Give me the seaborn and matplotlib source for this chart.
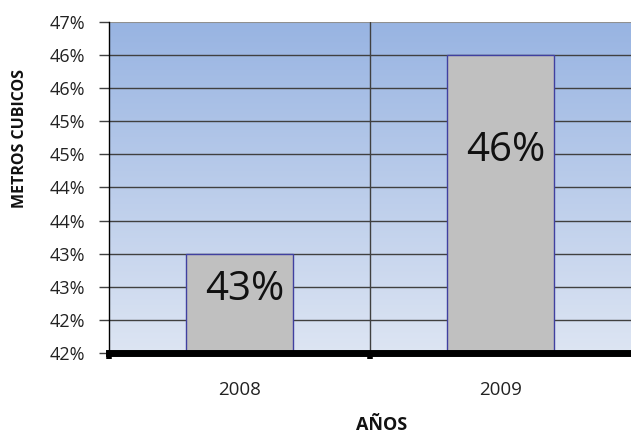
import numpy as np
import pandas as pd
import matplotlib
matplotlib.use("Agg")
import matplotlib.pyplot as plt
from matplotlib.colors import LinearSegmentedColormap
import seaborn as sns

years = ["2008", "2009"]
values = [0.435, 0.465]
bar_labels = ["43%", "46%"]
ytick_values = [0.42, 0.425, 0.43, 0.435, 0.44, 0.445, 0.45, 0.455, 0.46, 0.465, 0.47]
ytick_labels = ["42%", "42%", "43%", "43%", "44%", "44%", "45%", "45%", "46%", "46%", "47%"]

sns.set_theme(style="white")
plt.rcParams['font.family'] = ['Open Sans', 'DejaVu Sans']

W, H = 631, 434
fig = plt.figure(figsize=(W/100, H/100), dpi=100)
ax = fig.add_axes([109/W, (H-353)/H, 1 - 109/W, (353-22)/H])

# gradient background
cmap = LinearSegmentedColormap.from_list("bg", ["#DDE5F3", "#98B4E2"])
grad = np.linspace(0, 1, 256).reshape(-1, 1)
ax.imshow(grad, aspect="auto", cmap=cmap, origin="lower",
          extent=[0, 1, 0, 1], transform=ax.transAxes, zorder=0)

df = pd.DataFrame({"year": years, "value": values})
sns.barplot(data=df, x="year", y="value", color="#C0C0C0", width=0.41,
            edgecolor="#4040A0", linewidth=1, saturation=1, ax=ax, zorder=3)
ax.set_xlabel("")
ax.set_ylabel("")

ax.set_xlim(-0.5, 1.5)
ax.set_ylim(0.42, 0.47)
ax.set_yticks(ytick_values)
ax.set_yticklabels(ytick_labels, fontsize=13, color="#222222")

# gridlines
for v in ytick_values[1:-1]:
    ax.axhline(v, color="#404040", lw=1, zorder=1)
ax.axhline(ytick_values[-1], color="#909090", lw=1.5, zorder=1)
ax.axvline(0.5, color="#404040", lw=1, zorder=1)

# bar labels
base = 0.42
for i, (v, lab) in enumerate(zip(values, bar_labels)):
    ypos = base + (v - base) * (0.64 if i == 0 else 0.68)
    ax.text(i + 0.02, ypos, lab, ha="center", va="center", fontsize=29, color="#111111", zorder=4)

# spines
for s in ["top", "right"]:
    ax.spines[s].set_visible(False)
ax.spines["left"].set_color("black")
ax.spines["left"].set_linewidth(1)
ax.spines["bottom"].set_color("black")
ax.spines["bottom"].set_linewidth(5)
ax.spines["bottom"].set_zorder(5)

ax.tick_params(axis="y", which="major", left=True, length=7, width=1, color="#404040", pad=10)
ax.set_xticks([0, 1])
ax.set_xticklabels(years, fontsize=13.5, color="#222222")
ax.tick_params(axis="x", which="major", bottom=False, pad=14)
ax.set_xticks([-0.5, 0.5], minor=True)
ax.tick_params(axis="x", which="minor", bottom=True, length=4, width=4, color="black", direction="out")

fig.text(382/W, 1 - 425/H, "AÑOS", ha="center", va="center", fontsize=13, fontweight="bold", color="#111111")
fig.text(20/W, 1 - 138/H, "METROS CUBICOS", ha="center", va="center", rotation=90,
         fontsize=11.5, fontweight="bold", color="#111111")

fig.savefig("out.png", dpi=100)
